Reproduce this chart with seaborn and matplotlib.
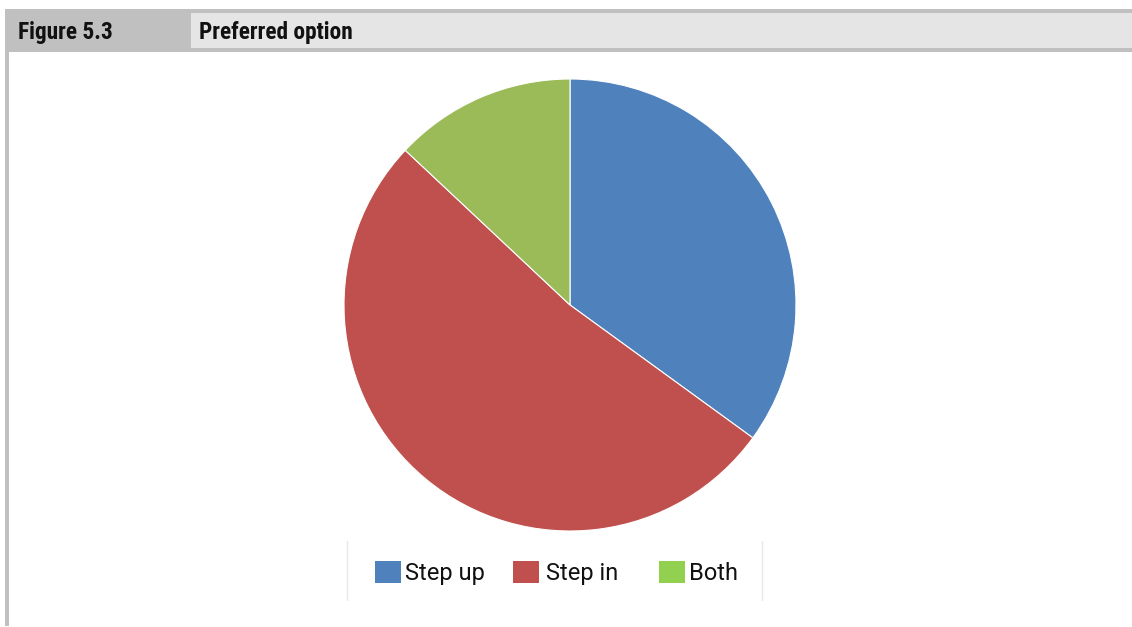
import matplotlib
matplotlib.use("Agg")
import matplotlib.pyplot as plt
from matplotlib import font_manager
from matplotlib.patches import Rectangle, Patch
from matplotlib.lines import Line2D
import seaborn as sns

# Survey result: preferred option
categories = ["Step up", "Step in", "Both"]
shares = [35, 52, 13]
slice_colors = ["#4F81BD", "#C0504D", "#9BBB59"]
legend_colors = ["#4F81BD", "#C0504D", "#92D050"]
figure_label = "Figure 5.3"
figure_title = "Preferred option"

sns.set_theme(style="white")

installed = {f.name for f in font_manager.fontManager.ttflist}


def pick(*names):
    for n in names:
        if n in installed:
            return n
    return "DejaVu Sans"


head_font = pick("Liberation Sans Narrow", "Roboto Condensed", "Liberation Sans")
body_font = pick("Roboto", "Liberation Sans", "DejaVu Sans")
plt.rcParams["font.family"] = [body_font, "DejaVu Sans"]

W, H = 1132, 627
fig = plt.figure(figsize=(W / 100, H / 100), dpi=100)
fig.patch.set_facecolor("white")


def px_rect(x0, y0, x1, y1, color):
    # rectangle given in pixel coordinates measured from the top-left corner
    fig.patches.append(Rectangle((x0 / W, 1 - y1 / H), (x1 - x0) / W, (y1 - y0) / H,
                                 transform=fig.transFigure, facecolor=color,
                                 edgecolor="none", zorder=0))


# header band
px_rect(5, 9, W, 13, "#C0C0C0")
px_rect(5, 13, W, 48, "#E5E5E5")
px_rect(5, 13, 191, 48, "#C0C0C0")
px_rect(5, 48, W, 52, "#C0C0C0")
# left rule
px_rect(5, 52, 9, 626, "#C0C0C0")

fig.text(18 / W, 1 - 32 / H, figure_label, family=[head_font, "DejaVu Sans"],
         fontweight="bold", fontsize=16.8, va="center", ha="left", color="#111111")
fig.text(199 / W, 1 - 32 / H, figure_title, family=[head_font, "DejaVu Sans"],
         fontweight="bold", fontsize=16.8, va="center", ha="left", color="#111111")

# pie
cx, cy, r = 570, 305, 226
ax = fig.add_axes([(cx - r) / W, 1 - (cy + r) / H, 2 * r / W, 2 * r / H])
ax.pie(shares, colors=slice_colors, startangle=90, counterclock=False,
       wedgeprops=dict(edgecolor="white", linewidth=0.8))
ax.set_xlim(-1, 1)
ax.set_ylim(-1, 1)
ax.set_aspect("equal")
ax.axis("off")

# legend frame sides
for x in (347, 762):
    fig.lines.append(Line2D([x / W, x / W], [1 - 541 / H, 1 - 600 / H],
                            transform=fig.transFigure, color="#E8E8E8", lw=1))

# legend entries sit in fixed-width slots
slot_left = [375, 513, 659]
text_pad = [0.15, 0.3, 0.15]
for name, color, x, pad in zip(categories, legend_colors, slot_left, text_pad):
    fig.legend([Patch(facecolor=color, edgecolor="none")], [name], loc="center left",
               bbox_to_anchor=(x / W, 1 - 573 / H), frameon=False, fontsize=17,
               handlelength=1.1, handleheight=1.1, handletextpad=pad,
               borderpad=0, borderaxespad=0, labelcolor="#111111")

fig.savefig("out.png", dpi=100)
